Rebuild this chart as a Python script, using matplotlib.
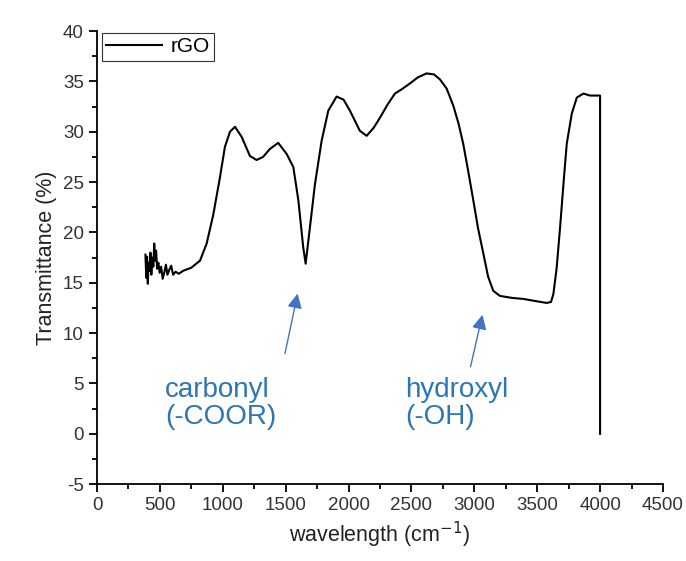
import matplotlib
matplotlib.use("Agg")
import matplotlib.pyplot as plt
from matplotlib.ticker import MultipleLocator

plt.rcParams['font.family'] = ['Liberation Sans', 'DejaVu Sans']
plt.rcParams['axes.unicode_minus'] = False

# FTIR spectrum of rGO
wavenumber = [385, 392, 398, 404, 410, 418, 425, 432, 440, 448, 455, 462, 470, 478, 488,
              498, 510, 522, 535, 548, 560, 575, 590, 605, 625, 650,
              686, 750, 819, 872, 925, 978, 1017, 1057, 1097, 1150, 1216, 1269, 1320,
              1375, 1441, 1508, 1561, 1601, 1640, 1659, 1693, 1733, 1786, 1839, 1905,
              1960, 2011, 2090, 2144, 2200, 2250, 2310, 2369, 2420, 2488, 2550, 2620,
              2680, 2727, 2780, 2833, 2875, 2912, 2950, 2992, 3030, 3072, 3110, 3151,
              3204, 3300, 3390, 3480, 3576, 3610, 3629, 3655, 3682, 3710, 3735, 3775,
              3815, 3868, 3920, 3974, 4000, 4000]
transmittance = [17.8, 15.5, 17.6, 14.9, 17.0, 16.2, 18.0, 15.8, 17.5, 16.6, 18.9, 17.2,
                 18.2, 16.4, 17.0, 16.0, 16.6, 15.4, 16.0, 16.8, 15.8, 16.3, 16.7, 15.8,
                 16.1, 15.9,
                 16.2, 16.5, 17.2, 18.9, 21.8, 25.5,
                 28.5, 30.0, 30.5, 29.5, 27.6, 27.2, 27.5, 28.3, 28.9, 27.8, 26.5, 23.2,
                 18.5, 16.9, 20.5, 24.8, 29.1, 32.1, 33.5, 33.2, 32.1, 30.1, 29.6, 30.4,
                 31.4, 32.7, 33.8, 34.2, 34.8, 35.4, 35.8, 35.7, 35.2, 34.3, 32.6, 30.8,
                 28.8, 26.2, 23.2, 20.4, 17.9, 15.6, 14.2, 13.7, 13.5, 13.4, 13.2, 13.0,
                 13.1, 13.9, 16.5, 20.5, 25.0, 28.8, 31.8, 33.4, 33.8, 33.6, 33.6, 33.6,
                 0.0]

# annotations: label, text position, arrow tail, arrow tip
labels = ["carbonyl\n(-COOR)", "hydroxyl\n(-OH)"]
label_pos = [(540, 0.4), (2450, 0.4)]
arrow_tail = [(1490, 7.7), (2965, 6.4)]
arrow_tip = [(1600, 14.2), (3070, 12.1)]

fig = plt.figure(figsize=(6.86, 5.61), dpi=100)
ax = fig.add_axes([0.1414, 0.137, 0.825, 0.8075])

ax.plot(wavenumber, transmittance, color='black', linewidth=1.5, label='rGO')

ax.set_xlim(0, 4500)
ax.set_ylim(-5, 40)
ax.xaxis.set_major_locator(MultipleLocator(500))
ax.xaxis.set_minor_locator(MultipleLocator(250))
ax.yaxis.set_major_locator(MultipleLocator(5))
ax.yaxis.set_minor_locator(MultipleLocator(2.5))
ax.tick_params(which='major', direction='out', length=6, width=1.3, labelsize=13.5,
               labelcolor='#333333')
ax.tick_params(which='minor', direction='out', length=3.5, width=1.3)
ax.spines['top'].set_visible(False)
ax.spines['right'].set_visible(False)
ax.spines['left'].set_linewidth(1.3)
ax.spines['bottom'].set_linewidth(1.3)

ax.set_xlabel('wavelength (cm$^{-1}$)', fontsize=15.5, color='#222222')
ax.set_ylabel('Transmittance (%)', fontsize=15.5, color='#222222')

for lab, pos, tail, tip in zip(labels, label_pos, arrow_tail, arrow_tip):
    ax.text(pos[0], pos[1], lab, color='#2e75b6', fontsize=20, ha='left', va='bottom',
            linespacing=1.05)
    ax.annotate('', xy=tip, xytext=tail,
                arrowprops=dict(arrowstyle='-|>', color='#4472c4', lw=1.0,
                                mutation_scale=22))

leg = ax.legend(loc='upper left', bbox_to_anchor=(0.005, 1.0), fontsize=15,
                frameon=True, fancybox=False, edgecolor='black', handlelength=2.7,
                borderpad=0.2, handletextpad=0.4, borderaxespad=0.1)
leg.get_frame().set_linewidth(0.8)

fig.savefig('out.png', dpi=100)
